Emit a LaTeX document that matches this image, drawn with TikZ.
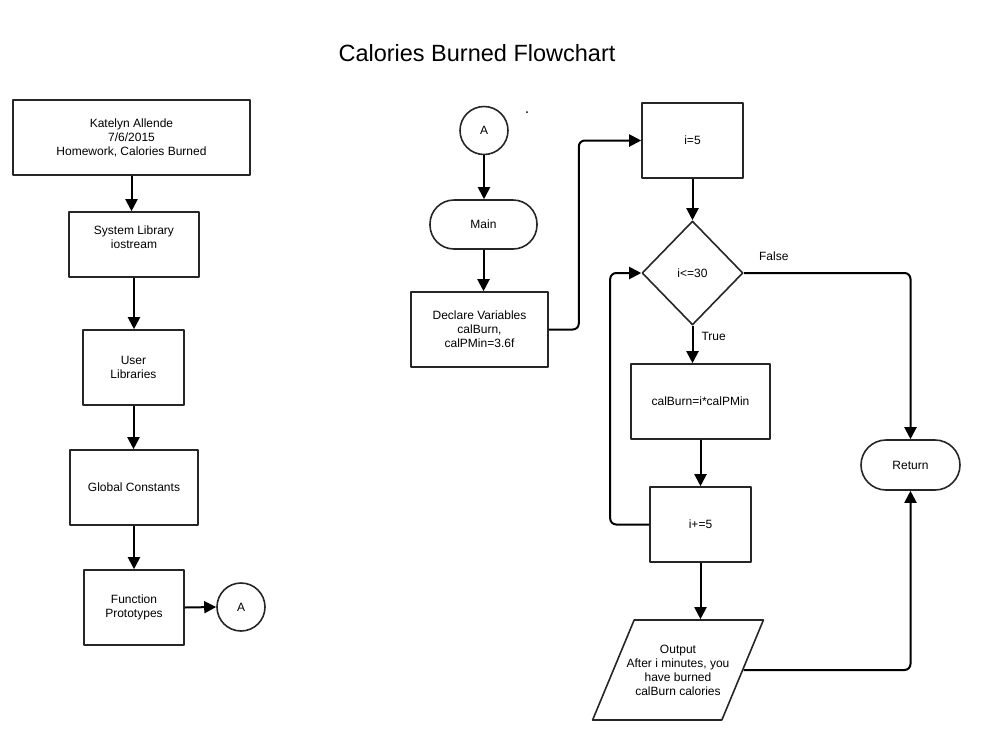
\documentclass[tikz,border=0pt]{standalone}
\usepackage{fontspec}
\setmainfont{Liberation Sans}
\usetikzlibrary{shapes.geometric,arrows.meta}

\begin{document}
\begin{tikzpicture}[x=1pt, y=-1pt, line join=round,
  box/.style={draw=black!85, line width=1.6pt, rectangle, inner sep=0pt, align=center, font=\fontsize{12}{14}\selectfont},
  term/.style={box, rounded corners=24pt},
  conn/.style={box, circle, minimum size=48pt},
  decide/.style={box, diamond},
  io/.style={box, trapezium, trapezium left angle=66.7, trapezium right angle=113.3, trapezium stretches body, inner ysep=23pt, inner xsep=-7.5pt},
  arr/.style={draw=black, line width=2pt, rounded corners=6pt, -{Triangle[length=12pt,width=12pt]}},
  lbl/.style={inner sep=0pt, font=\fontsize{12}{14}\selectfont}]

  %% ════ 标题 ════
  \node[inner sep=0pt, font=\fontsize{23.5}{28}\selectfont] (title) at (477,53) {Calories Burned Flowchart};

  %% ════ 左列 ════
  \node[box, minimum width=237pt, minimum height=75pt] (hdr) at (131.5,137.5) {Katelyn Allende\\7/6/2015\\Homework, Calories Burned};
  \node[box, minimum width=130pt, minimum height=65pt] (sys) at (134,244.5) {System Library\\iostream\\~};
  \node[box, minimum width=101pt, minimum height=75pt] (usr) at (133.5,367.5) {User\\Libraries};
  \node[box, minimum width=128pt, minimum height=75pt] (glb) at (134,487.5) {Global Constants};
  \node[box, minimum width=100pt, minimum height=75pt] (fp) at (134,607.5) {Function\\Prototypes};
  \node[conn] (conA) at (241,607) {A};

  %% ════ 右侧主流程 ════
  \node[conn] (conB) at (484,130.5) {A};
  \node[term, minimum width=107pt, minimum height=49pt] (main) at (483.5,224.5) {Main};
  \node[box, minimum width=137pt, minimum height=75pt] (decl) at (479.5,329.5) {Declare Variables\\calBurn,\\calPMin=3.6f};
  \node[box, minimum width=101pt, minimum height=75pt] (init) at (692.5,140.5) {i=5};
  \node[decide, minimum width=101pt, minimum height=104pt] (cond) at (692.5,273) {i<=30};
  \node[box, minimum width=139pt, minimum height=75pt] (calc) at (700.5,401.5) {calBurn=i*calPMin};
  \node[box, minimum width=101pt, minimum height=75pt] (inc) at (700.5,524.5) {i+=5};
  \node[io, minimum height=100pt] (out) at (678,670) {Output\\After i minutes, you\\have burned\\calBurn calories};
  \node[term, rounded corners=25pt, minimum width=99pt, minimum height=50pt] (ret) at (910.5,465) {Return};

  %% ════ 连线 ════
  \draw[arr] (hdr.south) -- (hdr.south |- sys.north);
  \draw[arr] (sys.south) -- (sys.south |- usr.north);
  \draw[arr] (usr.south) -- (usr.south |- glb.north);
  \draw[arr] (glb.south) -- (glb.south |- fp.north);
  \draw[arr] (fp.east) -- (conA.west);

  \draw[arr] (conB.south) -- (conB.south |- main.north);
  \draw[arr] (main.south) -- (main.south |- decl.north);
  \draw[arr] (decl.east) -- ++(30,0) |- (init.west);
  \draw[arr] (init.south) -- (init.south |- cond.north);
  \draw[arr] (cond.south) -- (cond.south |- calc.north)
    node[lbl, pos=0.28, anchor=west, xshift=8pt] {True};
  \draw[arr] (calc.south) -- (calc.south |- inc.north);
  \draw[arr] (inc.west) -- ++(-39,0) |- (cond.west);
  \draw[arr] (inc.south) -- (inc.south |- out.north);
  \draw[arr] (cond.east) -| (ret.north)
    node[lbl, pos=0.09, anchor=south, yshift=11pt] {False};
  \draw[arr] (out.east) -| (ret.south);

  % 杂点
  \fill (527,112) circle (1);

  \pgfresetboundingbox
  \path[use as bounding box] (0,0) rectangle (986,740);
\end{tikzpicture}
\end{document}
